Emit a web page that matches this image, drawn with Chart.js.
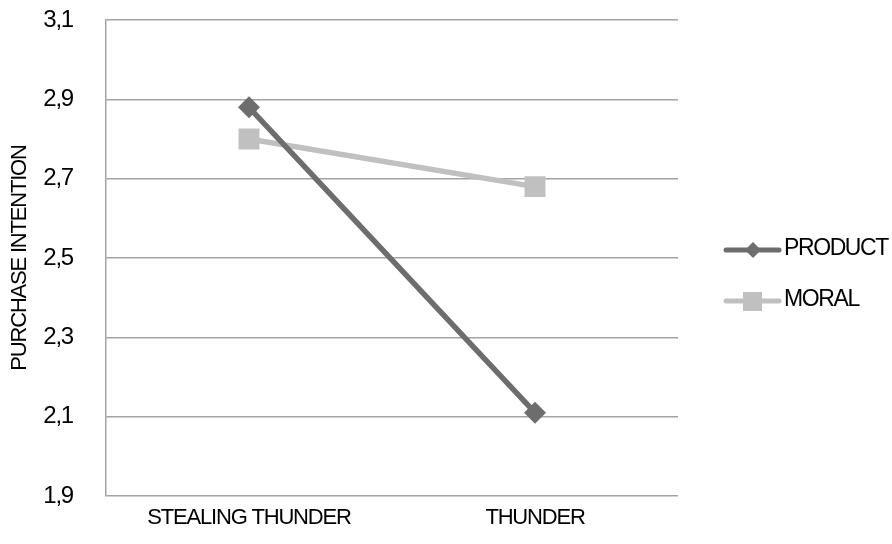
<!DOCTYPE html>
<html><head><meta charset="utf-8">
<script src="https://cdn.jsdelivr.net/npm/chart.js@4/dist/chart.umd.min.js"></script>
<style>html,body{margin:0;padding:0;background:#fff}#wrap{width:892px;height:544px}</style>
</head><body><div id="wrap"><canvas id="c"></canvas></div>
<script>
const categories = ["STEALING THUNDER", "THUNDER"];
const productValues = [2.88, 2.11];
const moralValues = [2.80, 2.68];
const yTicks = [1.9, 2.1, 2.3, 2.5, 2.7, 2.9, 3.1];
const seriesNames = ["PRODUCT", "MORAL"];

const FONT = "'Liberation Sans', Arial, sans-serif";
const SPACING = '-1.2px';

const spacingPlugin = {
  id: 'spacing',
  beforeLayout(chart) { chart.ctx.letterSpacing = SPACING; },
  beforeDraw(chart) { chart.ctx.letterSpacing = SPACING; }
};

const legendPlugin = {
  id: 'customLegend',
  afterDraw(chart) {
    const ctx = chart.ctx;
    const ys = [250, 301];
    chart.data.datasets.forEach((ds, i) => {
      const y = ys[i];
      ctx.save();
      ctx.strokeStyle = ds.borderColor;
      ctx.lineWidth = 5;
      ctx.lineCap = 'round';
      ctx.beginPath(); ctx.moveTo(726, y); ctx.lineTo(779, y); ctx.stroke();
      ctx.fillStyle = ds.backgroundColor;
      if (ds.pointStyle === 'rectRot') {
        ctx.beginPath();
        ctx.moveTo(753, y - 8); ctx.lineTo(761, y); ctx.lineTo(753, y + 8); ctx.lineTo(745, y);
        ctx.closePath(); ctx.fill();
      } else {
        ctx.fillRect(743, y - 9, 19, 19);
      }
      ctx.fillStyle = '#000';
      ctx.font = "23px " + FONT;
      ctx.letterSpacing = '-1.4px';
      ctx.textBaseline = 'middle';
      ctx.textAlign = 'left';
      ctx.fillText(ds.label, 784, y - 1);
      ctx.restore();
    });
  }
};

new Chart(document.getElementById('c'), {
  type: 'line',
  data: {
    labels: categories,
    datasets: [
      { label: seriesNames[0], data: productValues, borderColor: '#6d6d6d', backgroundColor: '#6d6d6d',
        borderWidth: 5.5, pointStyle: 'rectRot', pointRadius: 11, pointHoverRadius: 11, pointBorderWidth: 0, tension: 0 },
      { label: seriesNames[1], data: moralValues, borderColor: '#c0c0c0', backgroundColor: '#c0c0c0',
        borderWidth: 5.5, pointStyle: 'rect', pointRadius: 14.8, pointHoverRadius: 14.8, pointBorderWidth: 0, tension: 0 }
    ]
  },
  options: {
    responsive: true, maintainAspectRatio: false, animation: false,
    layout: { padding: { top: 20, right: 214, left: 0, bottom: 0 } },
    plugins: { legend: { display: false }, tooltip: { enabled: false } },
    scales: {
      x: {
        offset: true,
        grid: { display: false, drawTicks: false },
        border: { display: false },
        ticks: { color: '#000', font: { family: FONT, size: 22 }, padding: 9, maxRotation: 0 },
        afterFit(s) { s.height = 48; }
      },
      y: {
        min: 1.9, max: 3.1,
        afterBuildTicks(s) { s.ticks = yTicks.map(v => ({ value: v })); },
        grid: { color: '#a3a3a3', lineWidth: 1.5, drawTicks: false },
        border: { color: '#a3a3a3', width: 1.5 },
        ticks: { color: '#000', font: { family: FONT, size: 24 }, padding: 33,
          callback: v => Number(v).toFixed(1).replace('.', ',') },
        title: { display: true, text: 'PURCHASE INTENTION', color: '#000',
          font: { family: FONT, size: 22 }, padding: { top: 7, bottom: 0 } },
        afterFit(s) { s.width = 106; s.paddingTop = 12; s.paddingBottom = 12; }
      }
    }
  },
  plugins: [spacingPlugin, legendPlugin]
});
</script>
</body></html>
